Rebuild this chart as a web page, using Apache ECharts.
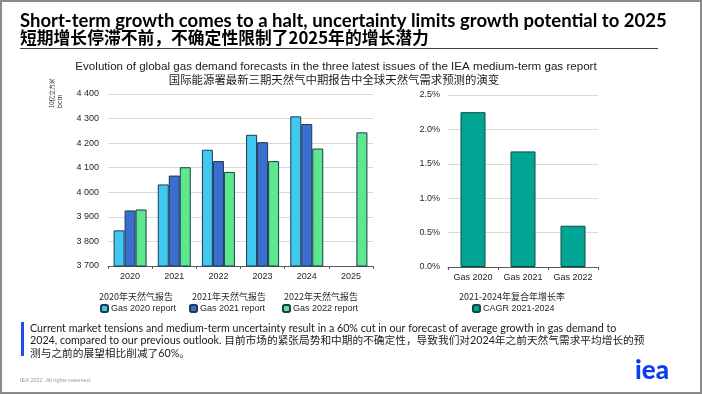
<!DOCTYPE html>
<html>
<head>
<meta charset="utf-8">
<script src="https://cdn.jsdelivr.net/npm/echarts@6/dist/echarts.min.js"></script>
<style>
html,body{margin:0;padding:0;background:#fff;}
#c{width:702px;height:395px;}
</style>
</head>
<body>
<div id="c"></div>
<script>
// ---- data ----
var years = ['2020', '2021', '2022', '2023', '2024', '2025'];
var gas2020Report = [3845, 4032, 4173, 4234, 4309, null];
var gas2021Report = [3926, 4068, 4127, 4204, 4278, null];
var gas2022Report = [3930, 4102, 4083, 4127, 4178, 4244];
var seriesNames = ['Gas 2020 report', 'Gas 2021 report', 'Gas 2022 report'];
var seriesNamesZh = ['2020年天然气报告', '2021年天然气报告', '2022年天然气报告'];
var cagrCategories = ['Gas 2020', 'Gas 2021', 'Gas 2022'];
var cagrValues = [2.25, 1.68, 0.60];
var cagrName = 'CAGR 2021-2024';
var cagrNameZh = '2021-2024年复合年增长率';

var titleEn = 'Short-term growth comes to a halt, uncertainty limits growth potential to 2025';
var titleZh = '短期增长停滞不前，不确定性限制了2025年的增长潜力';
var subEn = 'Evolution of global gas demand forecasts in the three latest issues of the IEA medium-term gas report';
var subZh = '国际能源署最新三期天然气中期报告中全球天然气需求预测的演变';
var unitZh = '10亿立方米';
var unitEn = 'bcm';
var bodyText = 'Current market tensions and medium-term uncertainty result in a 60% cut in our forecast of average growth in gas demand to\n2024, compared to our previous outlook. 目前市场的紧张局势和中期的不确定性，导致我们对2024年之前天然气需求平均增长的预\n测与之前的展望相比削减了60%。';

var AX = 'Liberation Sans, Arial, sans-serif';
var CJK = '"Noto Sans CJK SC", sans-serif';
var colors = ['#40c8f0', '#3a6ecf', '#5ee88e'];
var borderC = '#1e3a52';

var chart = echarts.init(document.getElementById('c'), null, {renderer: 'canvas'});

function thousand(v) { return String(v).replace(/\B(?=(\d{3})+(?!\d))/g, ' '); }

function legendAt(name, left) {
  return {data: [name], left: left, top: 304, padding: 0, itemWidth: 7, itemHeight: 7, itemGap: 0,
    textStyle: {fontFamily: AX, fontSize: 9, color: '#262626', padding: [0, 0, 0, -2]}};
}

var option = {
  animation: false,
  backgroundColor: '#fff',
  grid: [
    {left: 108, right: 329, top: 94, bottom: 129},
    {left: 448, right: 104, top: 95, bottom: 128}
  ],
  xAxis: [
    {type: 'category', gridIndex: 0, data: years,
     axisLine: {lineStyle: {color: '#595959', width: 1}},
     axisTick: {show: true, length: 3, lineStyle: {color: '#595959'}},
     axisLabel: {interval: 0, color: '#262626', fontFamily: AX, fontSize: 9, margin: 6}},
    {type: 'category', gridIndex: 1, data: cagrCategories,
     axisLine: {lineStyle: {color: '#595959', width: 1}},
     axisTick: {show: true, length: 3, lineStyle: {color: '#595959'}},
     axisLabel: {interval: 0, color: '#262626', fontFamily: AX, fontSize: 9, margin: 6}}
  ],
  yAxis: [
    {type: 'value', gridIndex: 0, min: 3700, max: 4400, interval: 100,
     axisLine: {show: false}, axisTick: {show: false},
     splitLine: {lineStyle: {color: '#d9d9d9', width: 1}},
     axisLabel: {color: '#262626', fontFamily: AX, fontSize: 9, margin: 9, formatter: thousand}},
    {type: 'value', gridIndex: 1, min: 0, max: 2.5, interval: 0.5,
     axisLine: {show: false}, axisTick: {show: false},
     splitLine: {lineStyle: {color: '#d9d9d9', width: 1}},
     axisLabel: {color: '#262626', fontFamily: AX, fontSize: 9, margin: 8,
       formatter: function (v) { return v.toFixed(1) + '%'; }}}
  ],
  legend: [
    legendAt(seriesNames[0], 100),
    legendAt(seriesNames[1], 189),
    legendAt(seriesNames[2], 282),
    legendAt(cagrName, 472)
  ],
  series: [
    {name: seriesNames[0], type: 'bar', xAxisIndex: 0, yAxisIndex: 0, data: gas2020Report,
     barWidth: 11, barGap: '0%',
     itemStyle: {color: colors[0], borderColor: borderC, borderWidth: 1}},
    {name: seriesNames[1], type: 'bar', xAxisIndex: 0, yAxisIndex: 0, data: gas2021Report,
     barWidth: 11, barGap: '0%',
     itemStyle: {color: colors[1], borderColor: borderC, borderWidth: 1}},
    {name: seriesNames[2], type: 'bar', xAxisIndex: 0, yAxisIndex: 0, data: gas2022Report,
     barWidth: 11, barGap: '0%',
     itemStyle: {color: colors[2], borderColor: borderC, borderWidth: 1}},
    {name: cagrName, type: 'bar', xAxisIndex: 1, yAxisIndex: 1, data: cagrValues,
     barWidth: 25,
     itemStyle: {color: '#00a693', borderColor: '#0d4a42', borderWidth: 1}}
  ],
  graphic: [
    {type: 'rect', shape: {x: 1, y: 1, width: 700, height: 392}, style: {fill: 'none', stroke: '#8c8c8c', lineWidth: 2}, silent: true},
    {type: 'text', x: 20, y: 21.5, style: {text: titleEn, fontFamily: 'Lato, sans-serif', fontWeight: 'bold', fontSize: 18.5, fill: '#000', align: 'left', verticalAlign: 'middle'}},
    {type: 'text', x: 20, y: 38, style: {text: titleZh, fontFamily: CJK, fontWeight: 'bold', fontSize: 16.8, fill: '#000', align: 'left', verticalAlign: 'middle'}},
    {type: 'line', shape: {x1: 20, y1: 48.5, x2: 658, y2: 48.5}, style: {stroke: '#404040', lineWidth: 1}},
    {type: 'text', x: 336, y: 67, style: {text: subEn, fontFamily: AX, fontSize: 11.6, fill: '#1a1a1a', align: 'center', verticalAlign: 'middle'}},
    {type: 'text', x: 334, y: 80, style: {text: subZh, fontFamily: CJK, fontSize: 11.4, fill: '#1a1a1a', align: 'center', verticalAlign: 'middle'}},
    {type: 'text', x: 48.5, y: 108, rotation: Math.PI / 2, style: {text: unitZh, fontFamily: CJK, fontSize: 5.8, fill: '#262626', align: 'left', verticalAlign: 'top'}},
    {type: 'text', x: 57, y: 108, rotation: Math.PI / 2, style: {text: unitEn, fontFamily: AX, fontSize: 7, fill: '#262626', align: 'left', verticalAlign: 'top'}},
    {type: 'text', x: 136, y: 297, style: {text: seriesNamesZh[0], fontFamily: CJK, fontSize: 9, fill: '#262626', align: 'center', verticalAlign: 'middle'}},
    {type: 'text', x: 229, y: 297, style: {text: seriesNamesZh[1], fontFamily: CJK, fontSize: 9, fill: '#262626', align: 'center', verticalAlign: 'middle'}},
    {type: 'text', x: 321, y: 297, style: {text: seriesNamesZh[2], fontFamily: CJK, fontSize: 9, fill: '#262626', align: 'center', verticalAlign: 'middle'}},
    {type: 'text', x: 512, y: 297, style: {text: cagrNameZh, fontFamily: CJK, fontSize: 9, fill: '#262626', align: 'center', verticalAlign: 'middle'}},
    {type: 'rect', shape: {x: 21, y: 322, width: 3, height: 34}, style: {fill: '#1f4bf2'}},
    {type: 'text', x: 30, y: 322, style: {text: bodyText, fontFamily: 'Lato, "Noto Sans CJK SC", sans-serif', fontSize: 10.7, lineHeight: 12.7, fill: '#1a1a1a', align: 'left', verticalAlign: 'top'}},
    {type: 'text', x: 20, y: 380, style: {text: 'IEA 2022. All rights reserved.', fontFamily: AX, fontSize: 5.5, fill: '#9a9a9a', align: 'left', verticalAlign: 'middle'}},
    {type: 'text', x: 652, y: 371, style: {text: 'iea', fontFamily: 'Lato, sans-serif', fontWeight: 900, fontSize: 26, fill: '#0b3df0', align: 'center', verticalAlign: 'middle'}}
  ]
};
chart.setOption(option);
</script>
</body>
</html>
